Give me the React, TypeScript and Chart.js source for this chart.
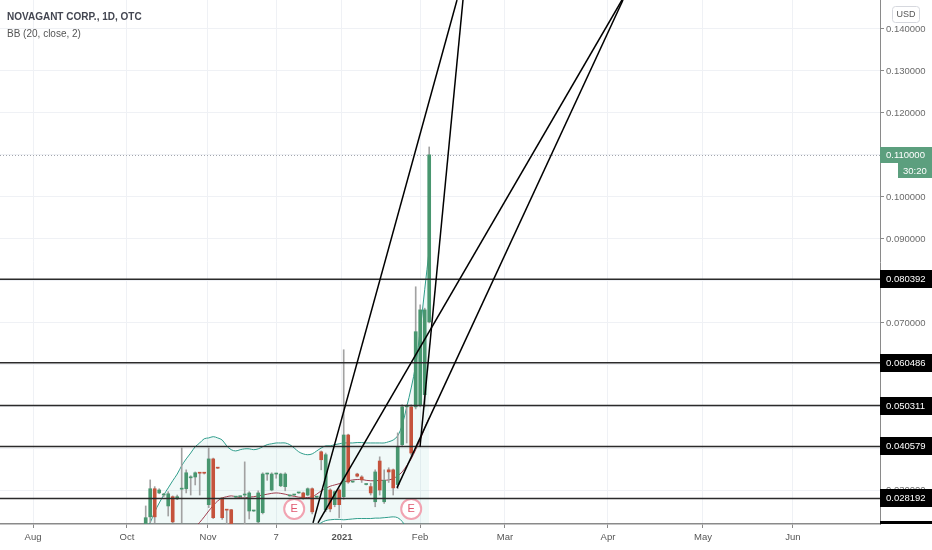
import React, { useEffect, useRef } from "react";
import { Chart, registerables } from "chart.js";

Chart.register(...registerables);

// ---- candles (bar index 0..63, daily, Oct 2020 – Feb 2021) ----
const opens = [
  0.0222, 0.0238, 0.0305, 0.0295, 0.029, 0.0264, 0.0286, 0.0281, 0.0304, 0.0305,
  0.0331, 0.0333, 0.0343, 0.0343, 0.0267, 0.0376, 0.0355, 0.0283, 0.0255, 0.0255,
  0.0285, 0.0286, 0.029, 0.0252, 0.0252, 0.0226, 0.0248, 0.034, 0.0302, 0.034,
  0.0312, 0.031, 0.0288, 0.029, 0.0295, 0.0295, 0.029, 0.0305, 0.0285, 0.0393,
  0.0255, 0.0302, 0.0267, 0.0302, 0.0286, 0.0433, 0.0321, 0.034, 0.0333, 0.0315,
  0.031, 0.0274, 0.0371, 0.0274, 0.035, 0.035, 0.0315, 0.041, 0.05, 0.05,
  0.05, 0.0505, 0.0529, 0.0702,
];
const highs = [
  0.0264, 0.0326, 0.031, 0.0305, 0.0294, 0.0298, 0.0288, 0.029, 0.0402, 0.035,
  0.0336, 0.0345, 0.0344, 0.0343, 0.0402, 0.0378, 0.0356, 0.0284, 0.0256, 0.0256,
  0.0286, 0.0287, 0.0369, 0.0298, 0.0253, 0.03, 0.0343, 0.0342, 0.0343, 0.0342,
  0.0342, 0.0343, 0.0289, 0.0291, 0.0296, 0.0297, 0.0307, 0.0307, 0.0286, 0.0395,
  0.039, 0.0305, 0.03, 0.0305, 0.0636, 0.0435, 0.0322, 0.0342, 0.0336, 0.0316,
  0.0318, 0.035, 0.0381, 0.035, 0.0355, 0.0352, 0.0438, 0.0505, 0.0505, 0.0505,
  0.0786, 0.0743, 0.0735, 0.1119,
];
const lows = [
  0.0221, 0.0224, 0.0224, 0.0293, 0.0286, 0.024, 0.0224, 0.0279, 0.0224, 0.0295,
  0.029, 0.0314, 0.029, 0.034, 0.026, 0.0234, 0.0353, 0.0232, 0.0222, 0.0221,
  0.0284, 0.0285, 0.0222, 0.0233, 0.0251, 0.0224, 0.0245, 0.0325, 0.03, 0.033,
  0.031, 0.03, 0.0287, 0.0289, 0.0294, 0.028, 0.0288, 0.0245, 0.0284, 0.035,
  0.025, 0.025, 0.0262, 0.0236, 0.028, 0.0318, 0.032, 0.0333, 0.032, 0.0314,
  0.029, 0.0262, 0.029, 0.027, 0.032, 0.029, 0.0305, 0.0405, 0.0414, 0.0385,
  0.0495, 0.05, 0.05, 0.07,
];
const closes = [
  0.0236, 0.0305, 0.0238, 0.0302, 0.0292, 0.0293, 0.0226, 0.0286, 0.0305, 0.0343,
  0.0333, 0.0343, 0.0342, 0.0342, 0.0376, 0.0236, 0.0354, 0.0236, 0.0254, 0.0222,
  0.0285, 0.0286, 0.0291, 0.0295, 0.0252, 0.0295, 0.034, 0.0341, 0.034, 0.0341,
  0.034, 0.034, 0.0288, 0.029, 0.0295, 0.0283, 0.0305, 0.025, 0.0285, 0.0374,
  0.0386, 0.0257, 0.0298, 0.0267, 0.0433, 0.0321, 0.0321, 0.0335, 0.0326, 0.0315,
  0.0295, 0.0345, 0.0302, 0.0325, 0.0345, 0.0307, 0.0405, 0.05, 0.0501, 0.039,
  0.0679, 0.0731, 0.0731, 0.11,
];

// ---- Bollinger Bands (20, close, 2) ----
const bbUpper = [
  0.0205, 0.0224, 0.025, 0.0271, 0.029, 0.0307, 0.0324, 0.034, 0.036, 0.0376,
  0.039, 0.0405, 0.0414, 0.0424, 0.0426, 0.0429, 0.0426, 0.0421, 0.0407, 0.0398,
  0.0395, 0.0398, 0.04, 0.04, 0.0398, 0.04, 0.0405, 0.041, 0.0412, 0.0414,
  0.0414, 0.0414, 0.041, 0.0402, 0.0393, 0.0388, 0.0386, 0.0388, 0.0395, 0.0402,
  0.0407, 0.0407, 0.041, 0.0412, 0.0414, 0.0414, 0.0414, 0.0415, 0.0415, 0.0414,
  0.0414, 0.0414, 0.0414, 0.0414, 0.0417, 0.0421, 0.0431, 0.0457, 0.05, 0.0545,
  0.06, 0.0683, 0.0779, 0.0874,
];
const bbBasis = [
  0.015, 0.0158, 0.0165, 0.0172, 0.0178, 0.0184, 0.0189, 0.0194, 0.0199, 0.0204,
  0.0209, 0.0215, 0.0225, 0.0238, 0.0252, 0.0265, 0.0276, 0.0283, 0.0286, 0.0288,
  0.0286, 0.0284, 0.0283, 0.0285, 0.0286, 0.0288, 0.029, 0.0292, 0.0294, 0.0295,
  0.0294, 0.0292, 0.0289, 0.0287, 0.0285, 0.0284, 0.0284, 0.0286, 0.0292, 0.03,
  0.0306, 0.0311, 0.0314, 0.0317, 0.0321, 0.0324, 0.0326, 0.0327, 0.0327, 0.0325,
  0.0324, 0.0324, 0.0325, 0.0325, 0.0326, 0.0329, 0.0336, 0.0345, 0.036, 0.0376,
  0.0398, 0.0421, 0.045, 0.0474,
];
const bbLower = [
  0.016, 0.0162, 0.016, 0.0158, 0.0157, 0.0156, 0.0155, 0.0155, 0.0156, 0.0158,
  0.016, 0.0163, 0.0166, 0.017, 0.0174, 0.0178, 0.0182, 0.0186, 0.019, 0.0193,
  0.0196, 0.0198, 0.0199, 0.02, 0.0201, 0.0202, 0.0203, 0.0204, 0.0205, 0.0206,
  0.0206, 0.0206, 0.0206, 0.0206, 0.0206, 0.0206, 0.0206, 0.021, 0.0216, 0.0224,
  0.0229, 0.0231, 0.0232, 0.0232, 0.0231, 0.0232, 0.0233, 0.0234, 0.0234, 0.0234,
  0.0234, 0.0235, 0.0235, 0.0236, 0.0237, 0.0238, 0.0236, 0.0227, 0.021, 0.0185,
  0.015, 0.011, 0.006, 0.003,
];

// ---- drawn horizontal levels ----
const levelPrices = [0.080392, 0.060486, 0.050311, 0.040579, 0.028192, 0.02071];
const levelLabels = ["0.080392", "0.060486", "0.050311", "0.040579", "0.028192", "0.020710"];

// ---- drawn trend lines (bar index, price) ----
const trendX1 = [37.18, 60.96, 38.29, 55.84];
const trendY1 = [0.02238, 0.04048, 0.02238, 0.03071];
const trendX2 = [69.18, 70.51, 105.84, 106.07];
const trendY2 = [0.1469, 0.1469, 0.1469, 0.1469];

// ---- earnings events ----
const earningsIndex = [33, 59];
const earningsPrice = 0.0257;

// ---- axes ----
const xTickIndex = [-25.04, -4.16, 13.84, 28.96, 43.62, 60.96, 79.84, 102.73, 123.84, 143.84];
const xTickLabels = ["Aug", "Oct", "Nov", "7", "2021", "Feb", "Mar", "Apr", "May", "Jun"];
const yTickValues = [0.03, 0.04, 0.05, 0.06, 0.07, 0.08, 0.09, 0.1, 0.11, 0.12, 0.13, 0.14];
const X_MIN = -32.38;
const X_MAX = 163.18;
const Y_MIN = 0.0221;
const Y_MAX = 0.1469;

const lastPriceLabel = "0.110000";
const countdownLabel = "30:20";

const FONT = "'Liberation Sans', Arial, sans-serif";
const GREEN = "#48966f";
const RED = "#c5533c";
const LABEL_GREEN = "#5c9f7e";
const TEAL = "#2f9d8b";
const MAROON = "#a03c4d";

export default function App() {
  const ref = useRef<HTMLCanvasElement>(null);

  useEffect(() => {
    const canvas = ref.current;
    if (!canvas) return;
    const idx = opens.map((_, i) => i);
    const candleColors = idx.map((i) => (closes[i] >= opens[i] ? GREEN : RED));

    const datasets: any[] = [
      {
        type: "line",
        data: idx.map((i) => ({ x: i, y: bbUpper[i] })),
        borderColor: TEAL,
        borderWidth: 1,
        pointRadius: 0,
        tension: 0.35,
        fill: { target: "+2" },
        backgroundColor: "rgba(38,166,154,0.07)",
        order: 10,
      },
      {
        type: "line",
        data: idx.map((i) => ({ x: i, y: bbBasis[i] })),
        borderColor: MAROON,
        borderWidth: 1,
        pointRadius: 0,
        tension: 0.35,
        fill: false,
        order: 9,
      },
      {
        type: "line",
        data: idx.map((i) => ({ x: i, y: bbLower[i] })),
        borderColor: TEAL,
        borderWidth: 1,
        pointRadius: 0,
        tension: 0.35,
        fill: false,
        order: 9,
      },
      {
        type: "bar",
        data: idx.map((i) => ({ x: i, y: [lows[i], highs[i]] })),
        backgroundColor: "#a2a2a2",
        barThickness: 1,
        grouped: false,
        minBarLength: 1,
        order: 8,
      },
      {
        type: "bar",
        data: idx.map((i) => ({ x: i, y: [opens[i], closes[i]] })),
        backgroundColor: candleColors,
        barThickness: 3,
        grouped: false,
        minBarLength: 1,
        order: 7,
      },
      {
        type: "line",
        data: earningsIndex.map((i) => ({ x: i, y: earningsPrice })),
        showLine: false,
        pointRadius: 10,
        pointBorderWidth: 2,
        pointBorderColor: "#f1a3b1",
        pointBackgroundColor: "rgba(255,255,255,0.95)",
        clip: false,
        order: 3,
      },
    ];
    const E_INDEX = 5;

    levelPrices.forEach((p) => {
      datasets.push({
        type: "line",
        data: [
          { x: X_MIN, y: p },
          { x: X_MAX, y: p },
        ],
        borderColor: "#2b2b2b",
        borderWidth: 1.5,
        pointRadius: 0,
        fill: false,
        order: 2,
      });
    });
    trendX1.forEach((_, k) => {
      datasets.push({
        type: "line",
        data: [
          { x: trendX1[k], y: trendY1[k] },
          { x: trendX2[k], y: trendY2[k] },
        ],
        borderColor: "#000",
        borderWidth: 1.5,
        pointRadius: 0,
        fill: false,
        order: 1,
      });
    });

    const overlay = {
      id: "overlay",
      beforeDatasetsDraw(chart: any) {
        const { ctx, chartArea: a, scales } = chart;
        const py = Math.round(scales.y.getPixelForValue(closes[closes.length - 1])) + 0.5;
        ctx.save();
        ctx.strokeStyle = "#a3a6ad";
        ctx.lineWidth = 1;
        ctx.setLineDash([1, 2]);
        ctx.beginPath();
        ctx.moveTo(a.left, py);
        ctx.lineTo(a.right, py);
        ctx.stroke();
        ctx.restore();
      },
      afterDraw(chart: any) {
        const { ctx, chartArea: a, scales, width } = chart;
        const y = scales.y;
        // earnings letters
        const meta = chart.getDatasetMeta(E_INDEX);
        ctx.save();
        ctx.fillStyle = "#e0566e";
        ctx.font = `11px ${FONT}`;
        ctx.textAlign = "center";
        ctx.textBaseline = "middle";
        meta.data.forEach((pt: any) => ctx.fillText("E", pt.x, pt.y + 0.5));
        ctx.restore();

        // level labels on the price axis
        ctx.save();
        ctx.beginPath();
        ctx.rect(a.right, 0, width - a.right, a.bottom);
        ctx.clip();
        ctx.font = `9.5px ${FONT}`;
        ctx.textAlign = "left";
        ctx.textBaseline = "middle";
        levelPrices.forEach((p, k) => {
          const py = Math.round(y.getPixelForValue(p));
          ctx.fillStyle = "#000";
          ctx.fillRect(a.right, py - 9, width - a.right, 18);
          ctx.fillStyle = "#fff";
          ctx.fillText(levelLabels[k], a.right + 6, py + 0.5);
        });
        // last price + countdown
        const pc = Math.round(y.getPixelForValue(closes[closes.length - 1]));
        ctx.fillStyle = LABEL_GREEN;
        ctx.fillRect(a.right, pc - 8, width - a.right, 16);
        ctx.fillStyle = "#fff";
        ctx.fillText(lastPriceLabel, a.right + 6, pc + 0.5);
        ctx.fillStyle = LABEL_GREEN;
        ctx.fillRect(a.right + 18, pc + 8, width - a.right - 18, 15);
        ctx.fillStyle = "#fff";
        ctx.fillText(countdownLabel, a.right + 23, pc + 16);
        ctx.restore();

        // currency box
        ctx.save();
        ctx.strokeStyle = "#d6d8de";
        ctx.lineWidth = 1;
        ctx.beginPath();
        const bx = a.right + 12.5, by = 6.5, bw = 27, bh = 16, r = 3;
        ctx.moveTo(bx + r, by);
        ctx.lineTo(bx + bw - r, by);
        ctx.quadraticCurveTo(bx + bw, by, bx + bw, by + r);
        ctx.lineTo(bx + bw, by + bh - r);
        ctx.quadraticCurveTo(bx + bw, by + bh, bx + bw - r, by + bh);
        ctx.lineTo(bx + r, by + bh);
        ctx.quadraticCurveTo(bx, by + bh, bx, by + bh - r);
        ctx.lineTo(bx, by + r);
        ctx.quadraticCurveTo(bx, by, bx + r, by);
        ctx.stroke();
        ctx.fillStyle = "#555";
        ctx.font = `9px ${FONT}`;
        ctx.textAlign = "center";
        ctx.textBaseline = "middle";
        ctx.fillText("USD", bx + bw / 2, by + bh / 2 + 0.5);
        ctx.restore();
      },
    };

    const chart = new Chart(canvas, {
      type: "bar",
      data: { datasets },
      options: {
        responsive: false,
        animation: false,
        events: [],
        layout: { padding: 0, autoPadding: false },
        plugins: { legend: { display: false }, tooltip: { enabled: false } },
        scales: {
          x: {
            type: "linear",
            min: X_MIN,
            max: X_MAX,
            offset: false,
            afterBuildTicks: (s: any) => {
              s.ticks = xTickIndex.map((v) => ({ value: v }));
            },
            afterFit: (s: any) => {
              s.height = 26;
              s.paddingLeft = 0;
              s.paddingRight = 0;
            },
            ticks: {
              autoSkip: false,
              maxRotation: 0,
              padding: 4,
              color: "#555",
              font: (c: any) => ({
                family: FONT,
                size: 9.5,
                weight: xTickLabels[c.index] === "2021" ? "bold" : "normal",
              }),
              callback: (_v: any, i: number) => xTickLabels[i],
            },
            grid: { offset: false, color: "#eff1f5", tickColor: "#8a8a8a", tickLength: 4 },
            border: { color: "#8a8a8a", width: 1.5 },
          },
          y: {
            type: "linear",
            position: "right",
            min: Y_MIN,
            max: Y_MAX,
            afterBuildTicks: (s: any) => {
              s.ticks = yTickValues.map((v) => ({ value: v }));
            },
            afterFit: (s: any) => {
              s.width = 52;
              s.paddingTop = 0;
              s.paddingBottom = 0;
            },
            ticks: {
              padding: 2,
              color: "#6b6b6b",
              font: { family: FONT, size: 9.5 },
              callback: (v: any) => Number(v).toFixed(6),
            },
            grid: { color: "#eff1f5", tickColor: "#8a8a8a", tickLength: 4 },
            border: { color: "#8a8a8a", width: 1 },
          },
        },
      } as any,
      plugins: [overlay],
    } as any);

    return () => chart.destroy();
  }, []);

  return (
    <div style={{ position: "fixed", left: 0, top: 0, width: 932, height: 550, background: "#fff" }}>
      <canvas ref={ref} width={932} height={550} style={{ display: "block", width: 932, height: 550 }} />
      <div
        style={{
          position: "absolute",
          left: 7,
          top: 11,
          font: `bold 10px ${FONT}`,
          lineHeight: "12px",
          color: "#434651",
          whiteSpace: "nowrap",
        }}
      >
        NOVAGANT CORP., 1D, OTC
      </div>
      <div
        style={{
          position: "absolute",
          left: 7,
          top: 28,
          font: `10px ${FONT}`,
          lineHeight: "12px",
          color: "#555",
          whiteSpace: "nowrap",
        }}
      >
        BB (20, close, 2)
      </div>
    </div>
  );
}
